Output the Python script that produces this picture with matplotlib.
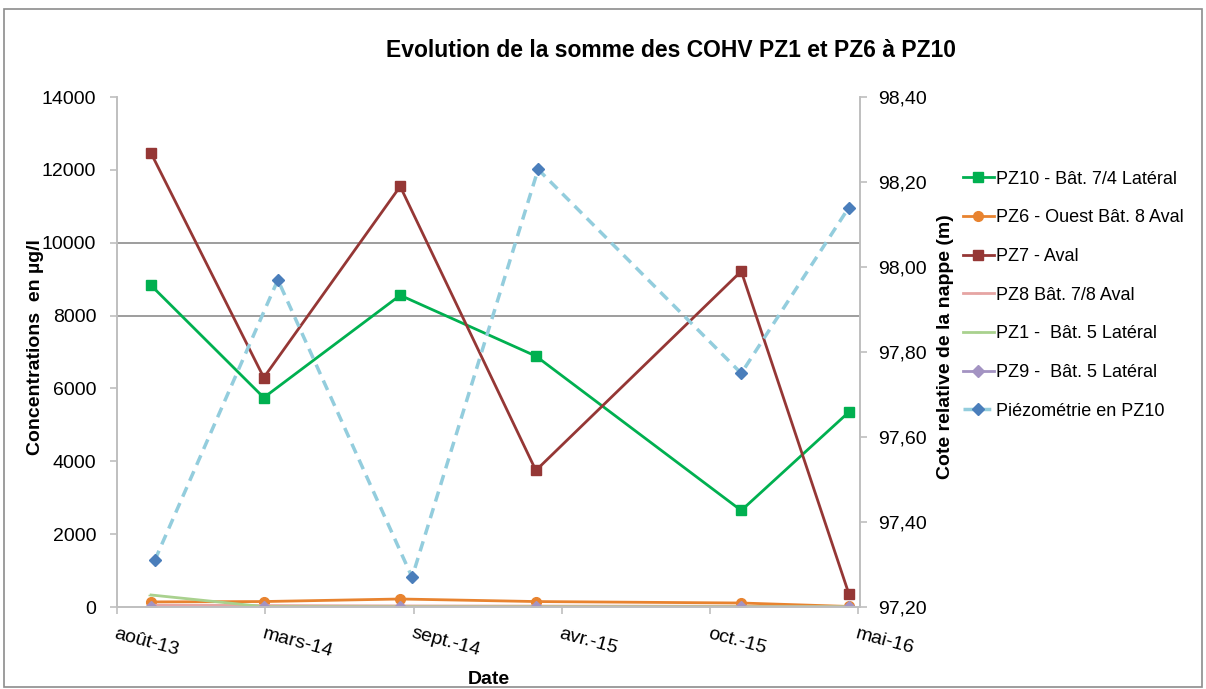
import datetime as dt
import matplotlib
matplotlib.use("Agg")
import matplotlib.pyplot as plt
from matplotlib.patches import Rectangle
from matplotlib.ticker import FuncFormatter

plt.rcParams["font.family"] = ["Liberation Sans", "DejaVu Sans"]

# dates des prélèvements (COHV) et des mesures piézométriques
dates = ["2013-10-05", "2014-03-06", "2014-09-06", "2015-03-08", "2015-12-10", "2016-05-03"]
dates_piezo = ["2013-10-10", "2014-03-25", "2014-09-22", "2015-03-11", "2015-12-10", "2016-05-03"]

pz10 = [8830, 5750, 8560, 6890, 2650, 5350]
pz6 = [140, 150, 220, 150, 110, 15]
pz7 = [12460, 6300, 11550, 3750, 9220, 370]
pz8 = [50, 40, 30, 25, 20, 10]
pz1 = [330, 10, 5, 5, 5, 5]
pz9 = [0, 0, 0, 0, 0, 0]
piezo = [97.31, 97.97, 97.27, 98.23, 97.75, 98.14]

# axe des dates : graduation tous les 200 jours
debut = "2013-08-20"
fin = "2016-05-18"
tick_dates = ["2013-08-20", "2014-03-08", "2014-09-24", "2015-04-12", "2015-10-29", "2016-05-16"]
tick_labels = ["août-13", "mars-14", "sept.-14", "avr.-15", "oct.-15", "mai-16"]


def d(s):
    return dt.datetime.strptime(s, "%Y-%m-%d")


x = [d(s) for s in dates]
xp = [d(s) for s in dates_piezo]

fig = plt.figure(figsize=(12.06, 6.89), dpi=100)
fig.patches.append(Rectangle((0.003, 0.003), 0.994, 0.984, transform=fig.transFigure,
                             fill=False, edgecolor="#8c8c8c", linewidth=1.2))

ax = fig.add_axes([0.097, 0.119, 0.616, 0.740])
ax2 = ax.twinx()

ax.axhline(8000, color="#8c8c8c", linewidth=1.2, zorder=1)
ax.axhline(10000, color="#8c8c8c", linewidth=1.2, zorder=1)

l1, = ax.plot(x, pz10, color="#00b050", marker="s", markersize=7, linewidth=2, label="PZ10 - Bât. 7/4 Latéral")
l2, = ax.plot(x, pz6, color="#e8832f", marker="o", markersize=7, linewidth=2, label="PZ6 - Ouest Bât. 8 Aval")
l3, = ax.plot(x, pz7, color="#953735", marker="s", markersize=7, linewidth=2, label="PZ7 - Aval")
l4, = ax.plot(x, pz8, color="#e6a5a3", marker="_", markersize=5, linewidth=2, label="PZ8 Bât. 7/8 Aval")
l5, = ax.plot(x, pz1, color="#a9d18e", marker="_", markersize=5, linewidth=2, label="PZ1 -  Bât. 5 Latéral")
l6, = ax.plot(x, pz9, color="#a393c2", marker="D", markersize=6, linewidth=2, label="PZ9 -  Bât. 5 Latéral")
l7, = ax2.plot(xp, piezo, color="#93cddd", linestyle=(0, (3, 2)), linewidth=2.5,
               marker="D", markersize=6, markerfacecolor="#4a7ebb", markeredgecolor="#4a7ebb",
               label="Piézométrie en PZ10")

ax.set_xlim(d(debut), d(fin))
ax.set_ylim(0, 14000)
ax.set_yticks(range(0, 14001, 2000))
ax2.set_ylim(97.2, 98.4)
ax2.set_yticks([97.2, 97.4, 97.6, 97.8, 98.0, 98.2, 98.4])
ax2.yaxis.set_major_formatter(FuncFormatter(lambda v, p: f"{v:.2f}".replace(".", ",")))

ax.set_xticks([d(s) for s in tick_dates])
ax.set_xticklabels(tick_labels, rotation=-15, ha="left", rotation_mode="anchor")

for a in (ax, ax2):
    a.spines["top"].set_visible(False)
    for side in ("left", "right", "bottom"):
        a.spines[side].set_color("#bfbfbf")
        a.spines[side].set_linewidth(1.2)
    a.tick_params(colors="#bfbfbf", labelcolor="black", labelsize=14, length=5, width=1.2)
ax.tick_params(axis="x", pad=8)
ax.tick_params(axis="y", pad=10)
ax2.tick_params(axis="y", pad=8)

ax.set_ylabel("Concentrations  en µg/l", fontsize=14, fontweight="bold")
ax.yaxis.set_label_coords(-0.098, 0.51)
ax2.set_ylabel("Cote relative de la nappe (m)", fontsize=14, fontweight="bold")
ax2.yaxis.set_label_coords(1.104, 0.51)
ax.set_xlabel("Date", fontsize=14, fontweight="bold", labelpad=8)

fig.text(0.556, 0.927, "Evolution de la somme des COHV PZ1 et PZ6 à PZ10",
         ha="center", va="center", fontsize=16.5, fontweight="bold")

fig.legend(handles=[l1, l2, l3, l4, l5, l6, l7], loc="upper left",
           bbox_to_anchor=(0.785, 0.776), frameon=False, fontsize=13,
           handlelength=1.7, labelspacing=1.2, handletextpad=0.15)

fig.savefig("out.png", dpi=100)
